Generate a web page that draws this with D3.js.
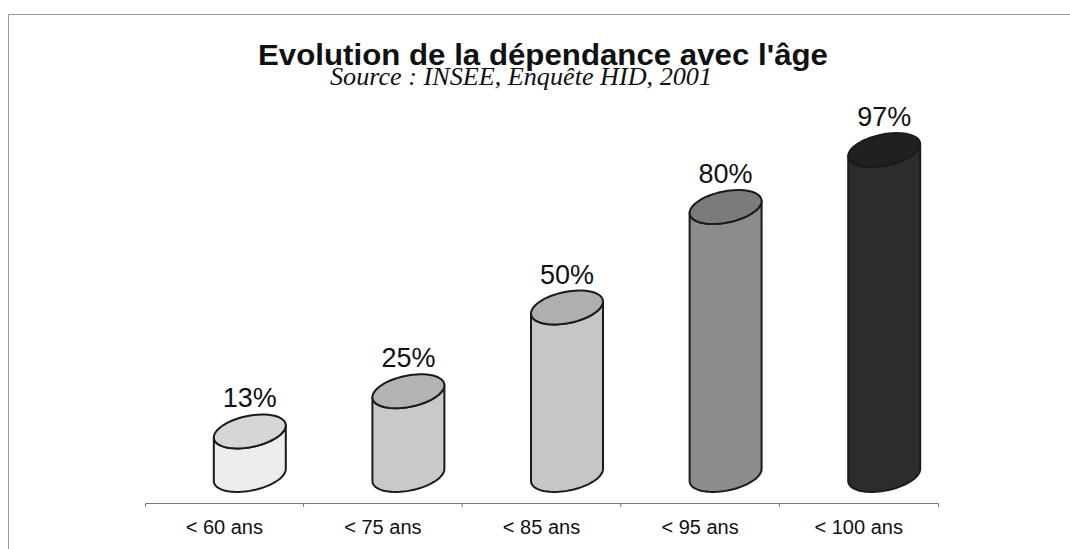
<!DOCTYPE html>
<html>
<head>
<meta charset="utf-8">
<script src="https://cdn.jsdelivr.net/npm/d3@7"></script>
<style>
  body { margin: 0; background: #fff; }
  text { font-family: "Liberation Sans", Arial, sans-serif; fill: #111; }
</style>
</head>
<body>
<div id="main"></div>
<script>
// data
const categories = ["< 60 ans", "< 75 ans", "< 85 ans", "< 95 ans", "< 100 ans"];
const values = [13, 25, 50, 80, 97];
const valueLabels = ["13%", "25%", "50%", "80%", "97%"];
const bodyColors = ["#ededed", "#c9c9c9", "#c6c6c6", "#8c8c8c", "#2c2c2c"];
const capColors = ["#d6d6d6", "#b3b3b3", "#afafaf", "#7b7b7b", "#202020"];

const ctx = {
    w: 1070,
    h: 549,
    axisY: 503,
    DEPTH_OFFSET: 25.5, // bars sit a bit right of the band centre (3d look)
    ELL_A: 36.6,
    ELL_B: 15.6,
    ELL_ROT: -11.6 * Math.PI / 180,
};

const x = d3.scaleBand().domain(categories).range([145, 938]);
const y = d3.scaleLinear().domain([0, 100]).range([475, 140]);

// point on the tilted ellipse
function ellPt(cx, cy, t){
    const c = Math.cos(ctx.ELL_ROT), s = Math.sin(ctx.ELL_ROT);
    const ex = ctx.ELL_A * Math.cos(t), ey = ctx.ELL_B * Math.sin(t);
    return [cx + ex * c - ey * s, cy + ex * s + ey * c];
}

function arcPts(cx, cy, t0, t1, n){
    const pts = [];
    for (let i = 0; i <= n; i++){
        pts.push(ellPt(cx, cy, t0 + (t1 - t0) * i / n));
    }
    return pts;
}

function drawChart(svg){
    // frame
    svg.append("rect")
       .attr("x", 8.5).attr("y", 14.5)
       .attr("width", ctx.w).attr("height", ctx.h)
       .attr("fill", "none")
       .attr("stroke", "#9a9a9a");

    svg.append("text")
       .attr("x", 543).attr("y", 65)
       .attr("text-anchor", "middle")
       .attr("font-size", 30).attr("font-weight", "bold")
       .attr("textLength", 570).attr("lengthAdjust", "spacingAndGlyphs")
       .text("Evolution de la dépendance avec l'âge");

    svg.append("text")
       .attr("x", 521).attr("y", 85)
       .attr("text-anchor", "middle")
       .attr("font-size", 26).attr("font-style", "italic")
       .style("font-family", "'Liberation Serif', 'Times New Roman', serif")
       .attr("textLength", 382).attr("lengthAdjust", "spacingAndGlyphs")
       .text("Source : INSEE, Enquête HID, 2001");

    // axis
    const axis = d3.axisBottom(x).tickSize(0).tickSizeOuter(4);
    const gAxis = svg.append("g")
       .attr("transform", "translate(0," + ctx.axisY + ")")
       .call(axis);
    gAxis.select(".domain").attr("stroke", "#777");
    gAxis.selectAll(".tick text")
         .attr("y", 31).attr("dy", 0)
         .attr("font-size", 20)
         .style("font-family", "'Liberation Sans', Arial, sans-serif")
         .attr("fill", "#111");
    gAxis.selectAll(".sep")
         .data(categories.slice(1))
         .enter()
         .append("line")
         .attr("class", "sep")
         .attr("x1", d => x(d)).attr("x2", d => x(d))
         .attr("y1", 0).attr("y2", 4)
         .attr("stroke", "#777");

    // tilted cylinders
    const tR = Math.atan2(-ctx.ELL_B * Math.sin(ctx.ELL_ROT), ctx.ELL_A * Math.cos(ctx.ELL_ROT));
    const tL = tR + Math.PI;
    const line = d3.line().curve(d3.curveLinearClosed);

    const bars = svg.append("g").selectAll("g")
        .data(categories.map((c, i) => ({cat: c, v: values[i], i: i})))
        .enter()
        .append("g");

    bars.each(function(d){
        const g = d3.select(this);
        const cx = x(d.cat) + x.bandwidth() / 2 + ctx.DEPTH_OFFSET;
        const top = y(d.v), base = y(0);
        // body: left edge, front of base, right edge, front of top
        const body = []
            .concat(arcPts(cx, base, tL, tR, 40))
            .concat(arcPts(cx, top, tR, tL, 40));
        g.append("path")
         .attr("d", line(body))
         .attr("fill", bodyColors[d.i])
         .attr("stroke", "#1a1a1a")
         .attr("stroke-width", 2)
         .attr("stroke-linejoin", "round");
        g.append("path")
         .attr("d", line(arcPts(cx, top, 0, 2 * Math.PI, 60)))
         .attr("fill", capColors[d.i])
         .attr("stroke", "#1a1a1a")
         .attr("stroke-width", 2);
        g.append("text")
         .attr("x", cx).attr("y", top - 24)
         .attr("text-anchor", "middle")
         .attr("font-size", 27)
         .text(valueLabels[d.i]);
    });
}

function createViz(){
    const svgEl = d3.select("#main").append("svg")
        .attr("width", ctx.w)
        .attr("height", ctx.h);
    drawChart(svgEl);
}

createViz();
</script>
</body>
</html>
